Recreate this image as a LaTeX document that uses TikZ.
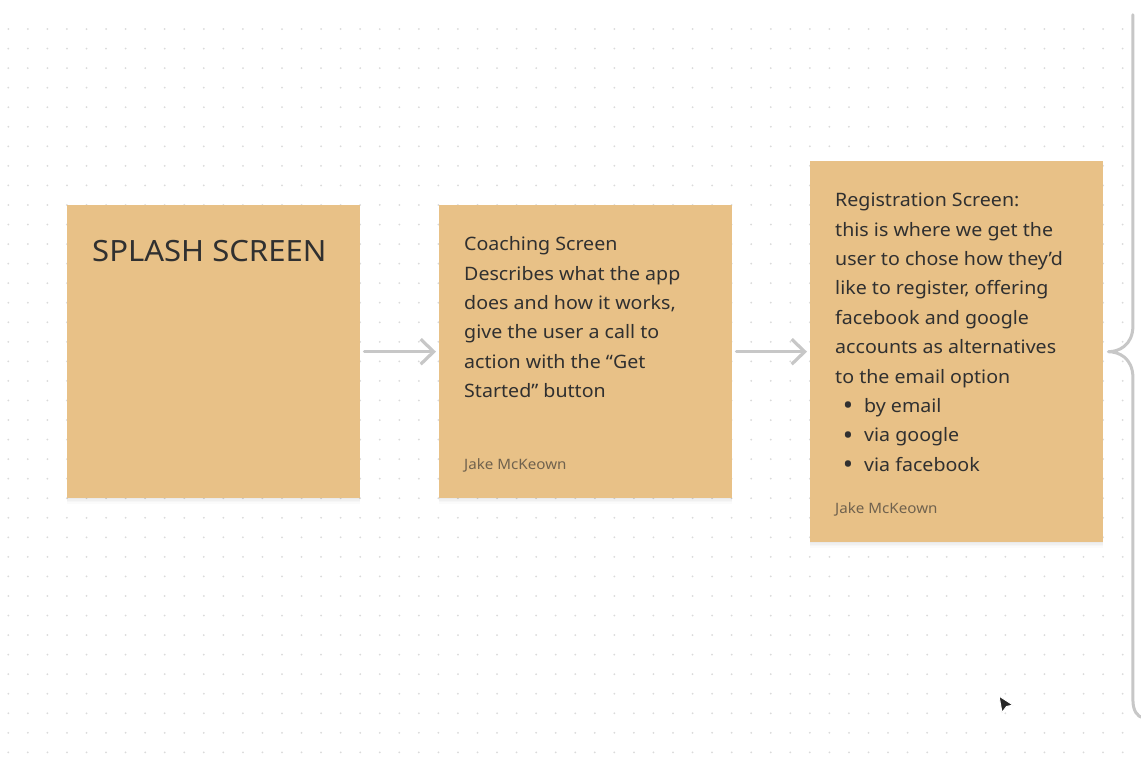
\documentclass[tikz,border=0pt]{standalone}
\usepackage{fontspec}
\setmainfont{Noto Sans}[FakeStretch=1.06]
\usetikzlibrary{arrows.meta,calc}
\definecolor{stickyfill}{RGB}{232,193,135}
\definecolor{inkcol}{RGB}{48,48,48}
\definecolor{authorcol}{RGB}{112,98,78}
\definecolor{linkcol}{RGB}{199,199,199}
\definecolor{dotcol}{RGB}{218,218,218}
\tikzset{
  sticky/.style={fill=stickyfill, minimum width=293pt, anchor=north west, inner sep=0pt,
    preaction={fill=black, opacity=.025, transform canvas={yshift=-1pt}},
    preaction={fill=black, opacity=.025, transform canvas={yshift=-2.5pt}},
    preaction={fill=black, opacity=.02, transform canvas={yshift=-4pt}},
    preaction={fill=black, opacity=.015, transform canvas={yshift=-6pt}}},
  notetext/.style={anchor=base west, inner sep=0pt, text=inkcol,
    font=\fontsize{18.5}{29.4}\selectfont},
  author/.style={anchor=base west, inner sep=0pt, text=authorcol,
    font=\fontsize{14.3}{16}\selectfont},
  link/.style={draw=linkcol, line width=3.2pt, line cap=round, line join=round,
    -{Straight Barb[length=13pt, width=25pt, line width=3.2pt]},
    shorten <=4pt, shorten >=3pt}
}
\newcommand{\bulletitem}[1]{\makebox[29pt][r]{{\fontsize{26}{0}\selectfont\raisebox{-2.2pt}{\textbullet}}\hspace{11pt}}#1}
\begin{document}
\begin{tikzpicture}[x=1pt, y=-1pt, line join=round, line cap=round]
% canvas and dot grid
\useasboundingbox (0,0) rectangle (1141,764);
\fill[white] (0,0) rectangle (1141,764);
\foreach \i in {0,...,57}
  \foreach \j in {0,...,37}
    \fill[dotcol] ({8.3+19.55*\i},{29+19.55*\j}) circle(1pt);
% sticky notes
\node[sticky, minimum height=293pt] (splash) at (67,205) {};
\node[sticky, minimum height=293pt] (coach) at (439,205) {};
\node[sticky, minimum height=381pt] (reg) at (810,161) {};
% texts of the notes
\node[notetext, font=\fontsize{29.3}{36}\selectfont] (splashtext) at ([shift={(25,56)}]splash.north west) {SPLASH SCREEN};
\node[notetext] (coachtext) at ([shift={(25,45.6)}]coach.north west) {\parbox[t]{265pt}{\raggedright
  Coaching Screen\\
  Describes what the app\\
  does and how it works,\\
  give the user a call to\\
  action with the “Get\\
  Started” button}};
\node[author] (coachauthor) at ([shift={(25,264)}]coach.north west) {Jake McKeown};
\node[notetext] (regtext) at ([shift={(25,45.6)}]reg.north west) {\parbox[t]{265pt}{\raggedright
  Registration Screen:\\
  this is where we get the\\
  user to chose how they’d\\
  like to register, offering\\
  facebook and google\\
  accounts as alternatives\\
  to the email option\\
  \bulletitem{by email}\\
  \bulletitem{via google}\\
  \bulletitem{via facebook}}};
\node[author] (regauthor) at ([shift={(25,352)}]reg.north west) {Jake McKeown};
% connectors
\draw[link] (splash.east) -- (coach.west);
\draw[link] (coach.east) -- (reg.west);
% brace on the right
\coordinate (tip) at ([xshift=5pt]reg.east);
\coordinate (bracetop) at ($(tip)+(24.5,-337)$);
\draw[draw=linkcol, line width=3pt]
  (bracetop) -- ++(0,311)
  .. controls ++(0,20) and ++(10,0) .. (tip)
  .. controls ++(10,0) and ++(0,-20) .. ($(tip)+(24.5,26)$)
  -- ++(0,322)
  .. controls ++(0,12) and ++(-5,-1) .. ++(10,18);
% mouse pointer
\filldraw[fill=black!85, draw=white, line width=1pt]
  (999,696) -- (1013,705) -- (1006.5,706.5) -- (1002,712.5) -- cycle;
\end{tikzpicture}
\end{document}
